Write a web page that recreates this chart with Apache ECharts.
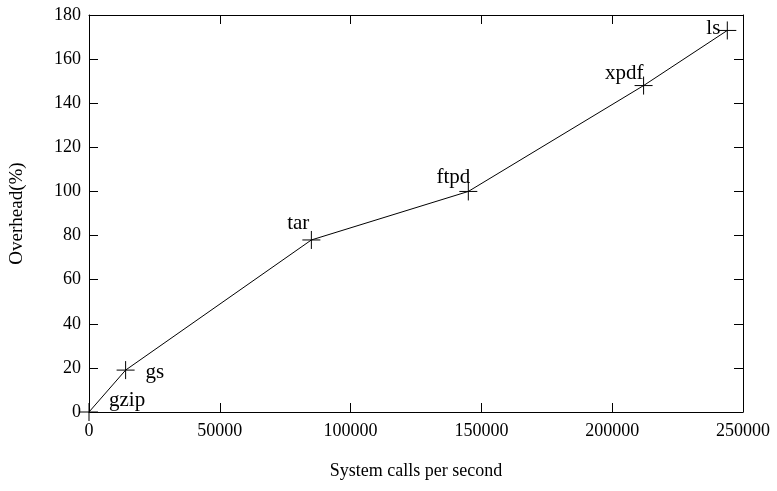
<!DOCTYPE html>
<html><head><meta charset="utf-8">
<script src="https://cdn.jsdelivr.net/npm/echarts@6/dist/echarts.min.js"></script>
<style>html,body{margin:0;padding:0;background:#fff}#c{width:777px;height:491px}</style>
</head><body><div id="c"></div>
<script>
const programs = ['gzip','gs','tar','ftpd','xpdf','ls'];
const callsPerSecond = [0, 14000, 85000, 145000, 212000, 244000];
const overheadPct = [0, 19, 78, 100, 148, 173];
const xTicks = [0, 50000, 100000, 150000, 200000, 250000];
const yTicks = [0, 20, 40, 60, 80, 100, 120, 140, 160, 180];

const labelPlace = {
  gzip: {align:'left', offset:[20,-12]},
  gs:   {align:'left', offset:[20,2]},
  tar:  {align:'right', offset:[-2,-16]},
  ftpd: {align:'right', offset:[2,-14]},
  xpdf: {align:'right', offset:[0,-12]},
  ls:   {align:'right', offset:[-7,-2]}
};
const font = '"Liberation Serif", "Times New Roman", serif';
const data = programs.map((p,i)=>({
  value:[callsPerSecond[i], overheadPct[i]],
  label:{show:true, formatter:p, position:'inside', verticalAlign:'middle',
    align:labelPlace[p].align, offset:labelPlace[p].offset,
    fontFamily:font, fontSize:21, color:'#000'}
}));
const common = {
  axisLine:{show:true, onZero:false, lineStyle:{color:'#000', width:1}},
  axisTick:{show:true, inside:true, length:9, lineStyle:{color:'#000'}},
  splitLine:{show:false}
};
const chart = echarts.init(document.getElementById('c'), null, {renderer:'canvas'});
chart.setOption({
  animation:false,
  backgroundColor:'#fff',
  grid:{left:89, right:34, top:15, bottom:79},
  xAxis:[
    Object.assign({type:'value', min:xTicks[0], max:xTicks[xTicks.length-1], interval:xTicks[1]-xTicks[0], position:'bottom',
      name:'System calls per second', nameLocation:'middle', nameGap:50,
      nameTextStyle:{fontFamily:font, fontSize:18, color:'#000'},
      axisLabel:{fontFamily:font, fontSize:18, color:'#000', margin:10, formatter:v=>String(v)}}, common),
    Object.assign({type:'value', min:xTicks[0], max:xTicks[xTicks.length-1], interval:xTicks[1]-xTicks[0], position:'top',
      axisLabel:{show:false}}, common)
  ],
  yAxis:[
    Object.assign({type:'value', min:yTicks[0], max:yTicks[yTicks.length-1], interval:yTicks[1]-yTicks[0], position:'left',
      name:'Overhead(%)', nameLocation:'middle', nameGap:62, nameRotate:90,
      nameTextStyle:{fontFamily:font, fontSize:19, color:'#000'},
      axisLabel:{fontFamily:font, fontSize:18, color:'#000', margin:8}}, common),
    Object.assign({type:'value', min:yTicks[0], max:yTicks[yTicks.length-1], interval:yTicks[1]-yTicks[0], position:'right',
      axisLabel:{show:false}}, common)
  ],
  series:[{
    type:'line', data:data,
    symbol:'path://M9,0L9,18M0,9L18,9', symbolSize:18, showAllSymbol:true,
    itemStyle:{color:'none', borderColor:'#000', borderWidth:1},
    lineStyle:{color:'#000', width:1},
    emphasis:{disabled:true}
  }]
});
</script></body></html>
